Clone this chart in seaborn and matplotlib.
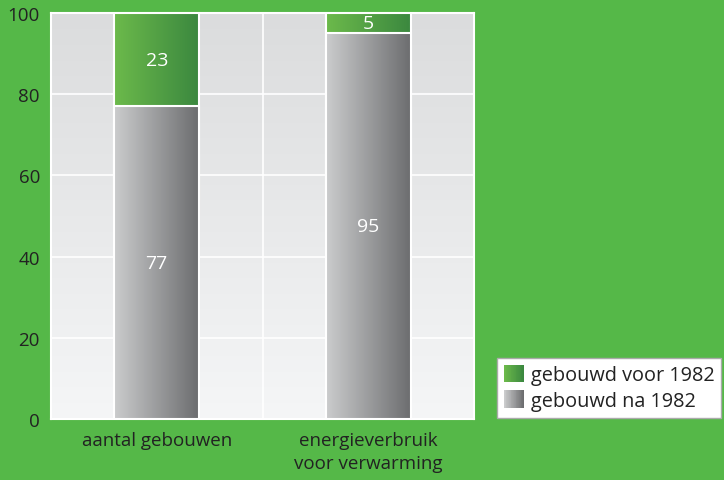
import numpy as np
import pandas as pd
import matplotlib
matplotlib.use("Agg")
import matplotlib.pyplot as plt
from matplotlib.colors import LinearSegmentedColormap
from matplotlib.legend_handler import HandlerBase
from matplotlib.patches import Rectangle, Patch
import seaborn as sns

sns.set_style("white")
plt.rcParams['font.family'] = ['Open Sans', 'DejaVu Sans']

# Data
categories = ["aantal gebouwen", "energieverbruik\nvoor verwarming"]
voor_1982 = [23, 5]
na_1982 = [77, 95]
series_labels = ["gebouwd voor 1982", "gebouwd na 1982"]
yticks = [0, 20, 40, 60, 80, 100]

bg_green = "#55b848"
green_cmap = LinearSegmentedColormap.from_list("grn", ["#6cba4b", "#3b883f"])
gray_cmap = LinearSegmentedColormap.from_list("gry", ["#cbcccd", "#6c6d6f"])
panel_cmap = LinearSegmentedColormap.from_list("pnl", ["#f5f6f7", "#dbdcdd"])

df = pd.DataFrame({"cat": categories, "voor": voor_1982, "na": na_1982})
df["total"] = df["voor"] + df["na"]

fig = plt.figure(figsize=(7.24, 4.81), dpi=100, facecolor=bg_green)
ax = fig.add_axes([51 / 724, 61 / 481, 423 / 724, 406 / 481])

# stacked bars: total (top segment) then bottom segment drawn over it
sns.barplot(data=df, x="cat", y="total", color="#4f9e44", width=0.4,
            edgecolor="white", linewidth=1.5, ax=ax, zorder=3)
n_top = len(ax.patches)
sns.barplot(data=df, x="cat", y="na", color="#999a9c", width=0.4,
            edgecolor="white", linewidth=1.5, ax=ax, zorder=5)

grad = np.linspace(0, 1, 256).reshape(1, -1)
for i, p in enumerate(ax.patches):
    cmap = green_cmap if i < n_top else gray_cmap
    z = 4 if i < n_top else 6
    x0, y0 = p.get_x(), p.get_y()
    w, h = p.get_width(), p.get_height()
    im = ax.imshow(grad, extent=[x0, x0 + w, y0, y0 + h], aspect="auto",
                   cmap=cmap, zorder=z, interpolation="bilinear")
    im.set_clip_path(p)
    # white outline on top of the gradient
    p.set_facecolor("none")
    p.set_zorder(z + 0.5)

# value labels
for i in range(len(categories)):
    ax.text(i, na_1982[i] / 2, str(na_1982[i]), ha="center", va="center",
            color="white", fontsize=14, zorder=10)
    ax.text(i, na_1982[i] + voor_1982[i] / 2, str(voor_1982[i]), ha="center",
            va="center", color="white", fontsize=14, zorder=10)

# panel background gradient
ax.imshow(np.linspace(0, 1, 256).reshape(-1, 1), extent=[0, 1, 0, 1],
          transform=ax.transAxes, aspect="auto", cmap=panel_cmap,
          origin="lower", zorder=0)
ax.set_xlim(-0.5, 1.5)
ax.set_ylim(0, 100)

# grid lines
for y in yticks[1:-1]:
    ax.axhline(y, color="white", lw=1.2, zorder=1)
for x in [-0.2, 0.2, 0.5, 0.8, 1.2]:
    ax.axvline(x, color="white", lw=1.2, zorder=1)

ax.set_yticks(yticks)
ax.set_yticklabels([str(t) for t in yticks])
ax.tick_params(axis="both", length=0, labelsize=13.5, labelcolor="#222222")
ax.tick_params(axis="y", pad=8)
ax.tick_params(axis="x", pad=9)
for t in ax.get_xticklabels():
    t.set_linespacing(1.35)
ax.set_xlabel("")
ax.set_ylabel("")
for s in ax.spines.values():
    s.set_color("white")
    s.set_linewidth(1.5)


class GradHandler(HandlerBase):
    def __init__(self, cmap):
        super().__init__()
        self.cmap = cmap

    def create_artists(self, legend, orig_handle, xdescent, ydescent,
                       width, height, fontsize, trans):
        n = 24
        arts = []
        for k in range(n):
            arts.append(Rectangle((-xdescent + width * k / n, -ydescent),
                                  width / n + 0.3, height,
                                  facecolor=self.cmap(k / (n - 1)), lw=0,
                                  transform=trans))
        return arts


h1 = Patch(label=series_labels[0])
h2 = Patch(label=series_labels[1])
leg = fig.legend([h1, h2], series_labels,
                 handler_map={h1: GradHandler(green_cmap), h2: GradHandler(gray_cmap)},
                 loc="lower left", bbox_to_anchor=(497 / 724, 62 / 481),
                 fontsize=14.3, frameon=True, fancybox=False, framealpha=1,
                 edgecolor="#aaaaaa", facecolor="white", handlelength=1.0,
                 handleheight=1.0, handletextpad=0.35, borderpad=0.35,
                 labelspacing=0.25, borderaxespad=0)
for t in leg.get_texts():
    t.set_color("#222222")

fig.savefig("out.png", dpi=100, facecolor=bg_green)
